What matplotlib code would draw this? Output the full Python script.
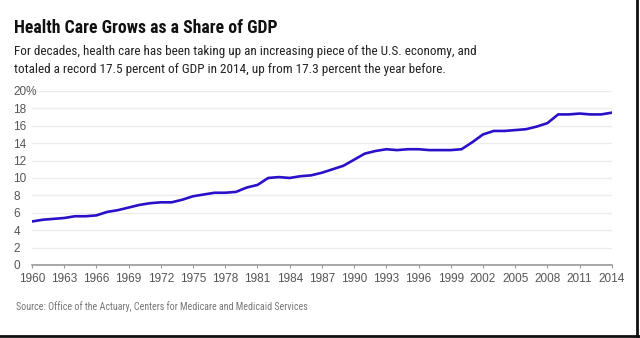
import matplotlib.pyplot as plt
from matplotlib.lines import Line2D

# dane: wydatki na ochronę zdrowia jako % PKB
years = list(range(1960, 2015))
share = [5.0, 5.2, 5.3, 5.4, 5.6, 5.6, 5.7, 6.1, 6.3, 6.6,
         6.9, 7.1, 7.2, 7.2, 7.5, 7.9, 8.1, 8.3, 8.3, 8.4,
         8.9, 9.2, 10.0, 10.1, 10.0, 10.2, 10.3, 10.6, 11.0, 11.4,
         12.1, 12.8, 13.1, 13.3, 13.2, 13.3, 13.3, 13.2, 13.2, 13.2,
         13.3, 14.1, 15.0, 15.4, 15.4, 15.5, 15.6, 15.9, 16.3, 17.3,
         17.3, 17.4, 17.3, 17.3, 17.5]
xticks = list(range(1960, 2015, 3))
yticks = list(range(0, 21, 2))
ylabels = [str(v) for v in yticks[:-1]] + ["20%"]

title = "Health Care Grows as a Share of GDP"
sub1 = "For decades, health care has been taking up an increasing piece of the U.S. economy, and"
sub2 = "totaled a record 17.5 percent of GDP in 2014, up from 17.3 percent the year before."
source = "Source: Office of the Actuary, Centers for Medicare and Medicaid Services"

plt.rcParams["font.family"] = ["Liberation Sans", "DejaVu Sans"]
cond = ["Roboto Condensed", "Open Sans Condensed", "Roboto"]

W, H = 640, 338
fig = plt.figure(figsize=(6.4, 3.38), dpi=100)
ax = fig.add_axes([0.05, 0.216, 0.906, 0.515])

ax.plot(years, share, color="#2a10c8", linewidth=1.9, solid_joinstyle="round")

ax.set_xlim(1960, 2014)
ax.set_ylim(0, 20)
ax.set_xticks(xticks)
ax.set_yticks(yticks)
ax.set_yticklabels(ylabels, ha="left")
ax.grid(axis="y", color="#ececec", linewidth=1)
ax.set_axisbelow(True)

for s in ["top", "right", "left"]:
    ax.spines[s].set_visible(False)
ax.spines["bottom"].set_color("#999999")
ax.spines["bottom"].set_linewidth(1.2)
ax.tick_params(axis="y", length=0, pad=13.5, labelsize=8.5, labelcolor="#555555")
ax.tick_params(axis="x", length=2.5, color="#999999", pad=3, labelsize=8.5, labelcolor="#555555")


def ypix(py):
    return 1 - py / H


def fit_text(x0, base, txt, width, size, **kw):
    # dopasowanie rozmiaru czcionki do szerokości z oryginału
    t = fig.text(x0 / W, ypix(base), txt, fontsize=size, va="baseline", **kw)
    r = fig.canvas.get_renderer()
    w = t.get_window_extent(r).width
    t.set_fontsize(size * width / w)
    return t


fit_text(14, 33.3, title, 262, 13, fontweight="bold", color="#111111", family=cond)
fit_text(14, 54.5, sub1, 459, 10, color="#222222", family=cond)
fit_text(14, 72.8, sub2, 430, 10, color="#222222", family=cond)
fit_text(16, 310, source, 292, 8, color="#777777", family=cond)

# ramka po prawej i na dole
fig.add_artist(Line2D([0.996, 0.996], [0, 1], color="#111111", linewidth=2, transform=fig.transFigure))
fig.add_artist(Line2D([0, 1], [0.006, 0.006], color="#111111", linewidth=2, transform=fig.transFigure))

fig.savefig("out.png", dpi=100)
